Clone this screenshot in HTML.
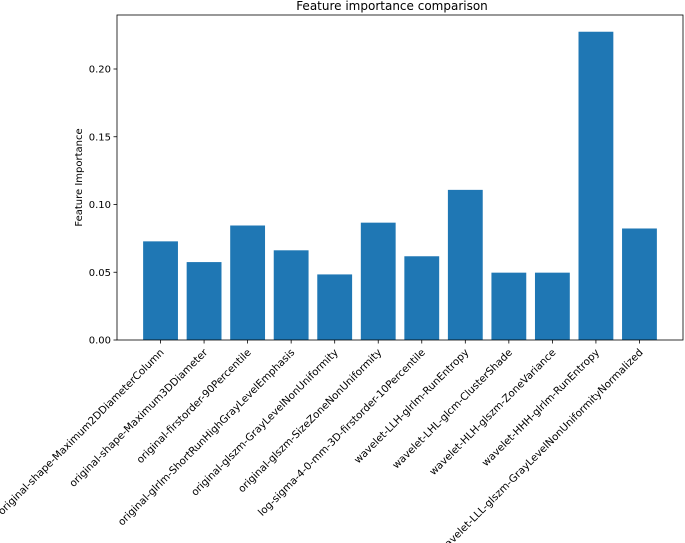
<!DOCTYPE html>
<html><head><meta charset="utf-8"><style>
html,body{margin:0;padding:0;background:#fff;width:685px;height:543px;overflow:hidden}
text{font-family:"DejaVu Sans","Liberation Sans",sans-serif;fill:#000}
</style></head><body>
<svg id="chart" width="685" height="543" xmlns="http://www.w3.org/2000/svg"></svg>
<script>
const categories=["original-shape-Maximum2DDiameterColumn","original-shape-Maximum3DDiameter","original-firstorder-90Percentile","original-glrlm-ShortRunHighGrayLevelEmphasis","original-glszm-GrayLevelNonUniformity","original-glszm-SizeZoneNonUniformity","log-sigma-4-0-mm-3D-firstorder-10Percentile","wavelet-LLH-glrlm-RunEntropy","wavelet-LHL-glcm-ClusterShade","wavelet-HLH-glszm-ZoneVariance","wavelet-HHH-glrlm-RunEntropy","wavelet-LLL-glszm-GrayLevelNonUniformityNormalized"];
const importances=[0.0728,0.0575,0.0845,0.0662,0.0484,0.0866,0.0618,0.1108,0.0497,0.0497,0.2275,0.0823];
const yTicks=[0,0.05,0.10,0.15,0.20];
const yTickLabels=["0.00","0.05","0.10","0.15","0.20"];
const svg=document.getElementById('chart');
const NS="http://www.w3.org/2000/svg";
const L=117,R=683,T=15,B=340;
const n=categories.length;
const xmin=-0.4-0.6,xmax=n-1+0.4+0.6;
const x=i=>L+(i-xmin)/(xmax-xmin)*(R-L);
const y=v=>B-v*1355;
const bw=0.8*(R-L)/(xmax-xmin);
function mk(tag,attrs){const e=document.createElementNS(NS,tag);for(const k in attrs)e.setAttribute(k,attrs[k]);svg.appendChild(e);return e;}
const title=mk('text',{x:392,y:10,'text-anchor':'middle','font-size':12});
title.textContent="Feature importance comparison";


importances.forEach((v,i)=>{
  const r=mk('rect',{x:x(i)-bw/2,y:y(v),width:bw,height:B-y(v),fill:'#1f77b4'});
  
  
  const t=mk('line',{x1:x(i),x2:x(i),y1:B,y2:B+3.5,stroke:'#000','stroke-width':0.8});
  
  
  const lb=mk('text',{x:0,y:0,'text-anchor':'end','font-size':10.3,transform:`translate(${x(i)+4},${B+13}) rotate(-45)`});
  lb.textContent=categories[i];
  
  
});
yTicks.forEach((v,i)=>{
  const t=mk('line',{x1:L-3.5,x2:L,y1:y(v),y2:y(v),stroke:'#000','stroke-width':0.8});
  
  
  const lb=mk('text',{x:L-6,y:y(v)+3.5,'text-anchor':'end','font-size':10});
  lb.textContent=yTickLabels[i];
  
  
});
const frame=mk('rect',{x:L,y:T,width:R-L,height:B-T,fill:'none',stroke:'#000','stroke-width':0.8});


const yt=mk('text',{x:0,y:0,'text-anchor':'middle','font-size':10,transform:`translate(82,${(T+B)/2}) rotate(-90)`});
yt.textContent="Feature Importance";


</script>
</body></html>
